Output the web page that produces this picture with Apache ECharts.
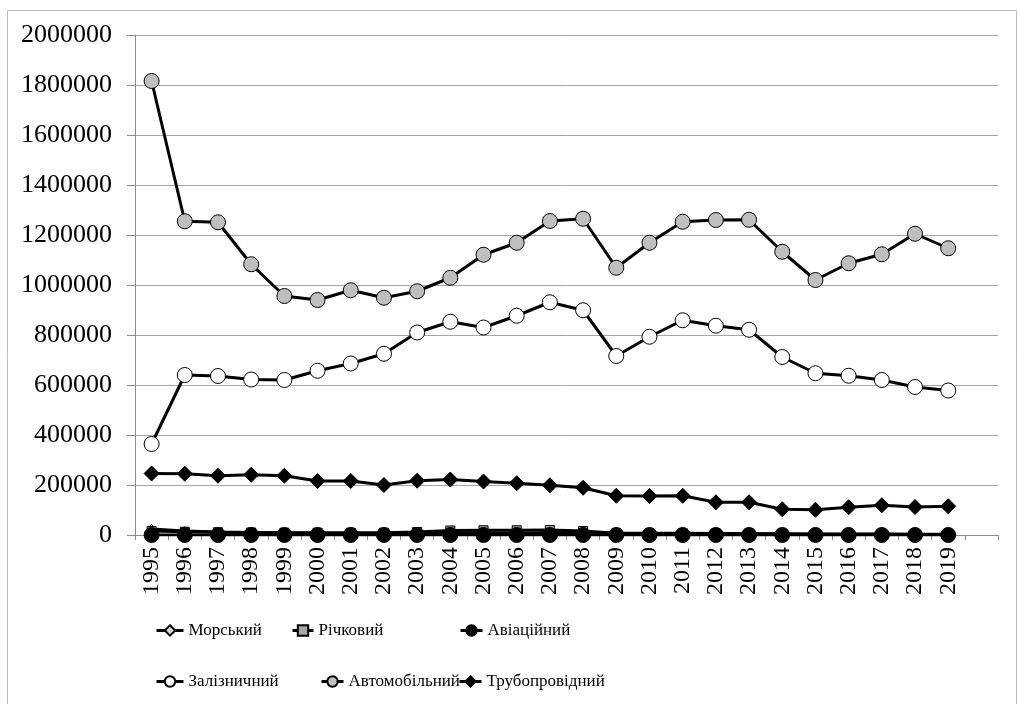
<!DOCTYPE html>
<html>
<head>
<meta charset="utf-8">
<script src="https://cdn.jsdelivr.net/npm/echarts@6/dist/echarts.min.js"></script>
<style>
  html, body { margin: 0; padding: 0; background: #fff; }
  #chart { width: 1018px; height: 704px; }
</style>
</head>
<body>
<div id="chart"></div>
<script>
  // years, plus one empty slot at the end like the original
  var years = ['1995', '1996', '1997', '1998', '1999', '2000', '2001', '2002', '2003', '2004',
    '2005', '2006', '2007', '2008', '2009', '2010', '2011', '2012', '2013', '2014',
    '2015', '2016', '2017', '2018', '2019', ''];

  var seaData = [24000, 16000, 12000, 10000, 9000, 6000, 6000, 6000, 7000, 7000,
    8000, 7000, 8000, 8000, 6000, 6000, 5000, 4000, 3000, 3000,
    3000, 2000, 3000, 2000, 2000];
  var riverData = [16000, 13000, 11000, 10000, 9000, 9000, 9000, 9000, 12000, 18000,
    19000, 19000, 20000, 16000, 7000, 7000, 7000, 6000, 6000, 5000,
    4000, 4000, 4000, 3000, 3000];
  var airData = [100, 100, 100, 100, 100, 100, 100, 100, 100, 100,
    100, 100, 100, 100, 100, 100, 100, 100, 100, 100,
    100, 100, 100, 100, 100];
  var railData = [364000, 640000, 636000, 622000, 620000, 657000, 686000, 725000, 810000, 853000,
    830000, 877000, 931000, 899000, 716000, 793000, 859000, 837000, 821000, 712000,
    647000, 637000, 620000, 592000, 578000];
  var roadData = [1816000, 1255000, 1251000, 1083000, 956000, 940000, 979000, 949000, 975000, 1029000,
    1121000, 1169000, 1256000, 1265000, 1069000, 1169000, 1253000, 1260000, 1261000, 1133000,
    1020000, 1087000, 1123000, 1205000, 1147000];
  var pipeData = [246000, 245000, 237000, 241000, 237000, 216000, 216000, 200000, 217000, 222000,
    214000, 207000, 199000, 189000, 157000, 156000, 157000, 131000, 131000, 103000,
    101000, 111000, 119000, 112000, 115000];

  var yTicks = [0, 200000, 400000, 600000, 800000, 1000000, 1200000, 1400000, 1600000, 1800000, 2000000];

  var font = "'Liberation Serif', 'Times New Roman', serif";
  var chart = echarts.init(document.getElementById('chart'));

  function lineSeries(name, data, symbol, size, fill) {
    return {
      name: name,
      type: 'line',
      data: data,
      symbol: symbol,
      symbolSize: size,
      showAllSymbol: true,
      lineStyle: { color: '#000', width: 3 },
      itemStyle: { color: fill, borderColor: '#000', borderWidth: 1 },
      emphasis: { disabled: true }
    };
  }

  // name, left, top, icon width
  var legendPos = [
    ['Морський', 155, 622, 27],
    ['Річковий', 291, 622, 21],
    ['Авіаційний', 459, 622, 22],
    ['Залізничний', 155, 673, 27],
    ['Автомобільний', 320, 673, 22],
    ['Трубопровідний', 458, 673, 22]
  ];

  var option = {
    animation: false,
    backgroundColor: '#fff',
    graphic: [{
      type: 'rect',
      shape: { x: 7.5, y: 10.5, width: 1009, height: 700 },
      style: { fill: 'none', stroke: '#bdbdbd', lineWidth: 1 },
      silent: true
    }],
    legend: legendPos.map(function (p) {
      return {
        data: [p[0]],
        left: p[1],
        top: p[2],
        padding: 0,
        itemWidth: p[3],
        itemHeight: 13,
        itemGap: 2,
        lineStyle: { width: 3, color: '#000' },
        textStyle: { fontFamily: font, fontSize: 17, color: '#000' },
        selectedMode: false
      };
    }),
    grid: { left: 135, right: 20, top: 35, bottom: 169, containLabel: false },
    xAxis: {
      type: 'category',
      data: years,
      boundaryGap: true,
      axisLine: { lineStyle: { color: '#8c8c8c', width: 1 } },
      axisTick: { show: true, length: 5, lineStyle: { color: '#8c8c8c' } },
      axisLabel: {
        rotate: 90,
        interval: 0,
        margin: 12,
        fontFamily: font,
        fontSize: 24,
        color: '#000'
      }
    },
    yAxis: {
      type: 'value',
      min: yTicks[0],
      max: yTicks[yTicks.length - 1],
      interval: 200000,
      axisLine: { show: true, lineStyle: { color: '#8c8c8c', width: 1 } },
      axisTick: { show: true, length: 8, lineStyle: { color: '#8c8c8c' } },
      splitLine: { lineStyle: { color: '#a6a6a6', width: 1 } },
      axisLabel: {
        margin: 23,
        fontFamily: font,
        fontSize: 26,
        color: '#000',
        formatter: function (v) { return String(v); }
      }
    },
    series: [
      lineSeries('Морський', seaData, 'diamond', 9, '#d9d9d9'),
      lineSeries('Річковий', riverData, 'rect', 9, '#a6a6a6'),
      lineSeries('Авіаційний', airData, 'circle', 15, '#000'),
      lineSeries('Залізничний', railData, 'circle', 15, '#fff'),
      lineSeries('Автомобільний', roadData, 'circle', 15, '#bfbfbf'),
      lineSeries('Трубопровідний', pipeData, 'diamond', 15, '#000')
    ]
  };

  chart.setOption(option);
</script>
</body>
</html>
